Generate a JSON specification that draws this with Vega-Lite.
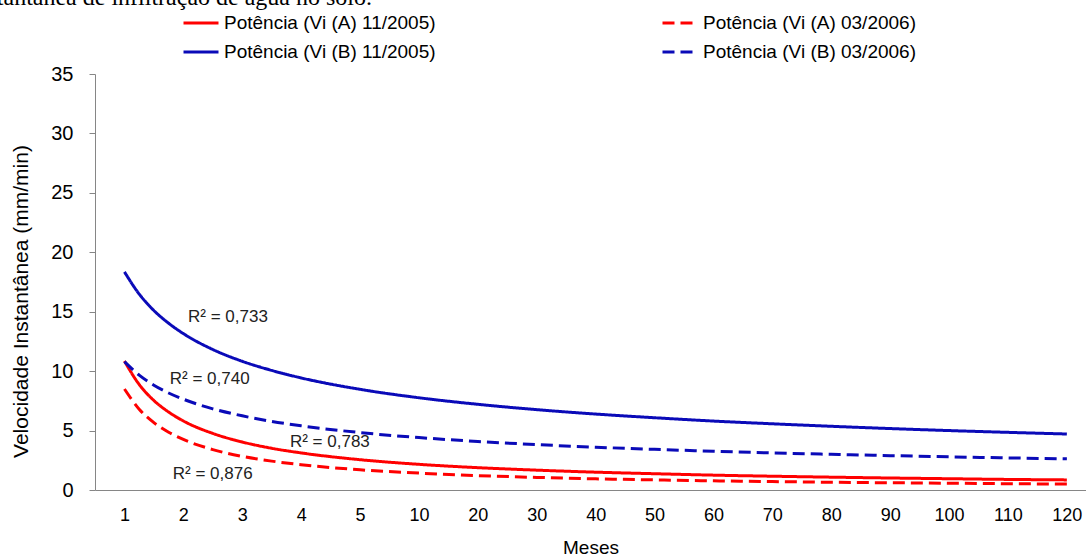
{
  "$schema": "https://vega.github.io/schema/vega-lite/v6.json",
  "autosize": {"type": "none"},
  "padding": {"left": 95, "top": 74, "right": 0, "bottom": 67},
  "width": 991,
  "height": 416,
  "background": "white",
  "config": {
    "view": {"stroke": null},
    "font": "Liberation Sans",
    "legend": {
      "orient": "none",
      "legendX": 87,
      "legendY": -70,
      "columns": 2,
      "columnPadding": 220,
      "rowPadding": -5,
      "symbolType": "stroke",
      "symbolSize": 1225,
      "symbolStrokeWidth": 3,
      "labelFontSize": 19,
      "labelLimit": 500,
      "labelFont": "Liberation Sans",
      "labelColor": "black",
      "labelOffset": 4,
      "titleFontSize": 0
    }
  },
  "title": {
    "text": "Figura 1. Velocidade instantânea de infiltração de água no solo.",
    "anchor": "start",
    "align": "right",
    "frame": "group",
    "dx": 277,
    "dy": 25,
    "offset": 0,
    "font": "Liberation Serif",
    "fontSize": 24,
    "fontWeight": "normal",
    "color": "black",
    "baseline": "alphabetic"
  },
  "layer": [
    {
      "data": {
        "values": [
          {"i": 1, "a11": 10.85, "a03": 8.5, "b11": 18.35, "b03": 10.8},
          {"i": 1.25, "a11": 8.88, "a03": 6.8, "b11": 16.49, "b03": 9.66},
          {"i": 1.5, "a11": 7.53, "a03": 5.67, "b11": 15.1, "b03": 8.82},
          {"i": 1.75, "a11": 6.56, "a03": 4.86, "b11": 14.03, "b03": 8.16},
          {"i": 2, "a11": 5.81, "a03": 4.25, "b11": 13.16, "b03": 7.64},
          {"i": 2.5, "a11": 4.76, "a03": 3.4, "b11": 11.82, "b03": 6.83},
          {"i": 3, "a11": 4.04, "a03": 2.83, "b11": 10.83, "b03": 6.24},
          {"i": 3.5, "a11": 3.51, "a03": 2.43, "b11": 10.06, "b03": 5.77},
          {"i": 4, "a11": 3.12, "a03": 2.13, "b11": 9.43, "b03": 5.4},
          {"i": 5, "a11": 2.55, "a03": 1.7, "b11": 8.47, "b03": 4.83},
          {"i": 6, "a11": 2.16, "a03": 1.42, "b11": 7.76, "b03": 4.41},
          {"i": 7, "a11": 1.88, "a03": 1.21, "b11": 7.21, "b03": 4.08},
          {"i": 8, "a11": 1.67, "a03": 1.06, "b11": 6.76, "b03": 3.82},
          {"i": 9, "a11": 1.5, "a03": 0.94, "b11": 6.39, "b03": 3.6},
          {"i": 10, "a11": 1.37, "a03": 0.85, "b11": 6.08, "b03": 3.42},
          {"i": 11, "a11": 1.25, "a03": 0.77, "b11": 5.8, "b03": 3.26},
          {"i": 12, "a11": 1.16, "a03": 0.71, "b11": 5.57, "b03": 3.12},
          {"i": 13, "a11": 1.08, "a03": 0.65, "b11": 5.36, "b03": 3.0},
          {"i": 14, "a11": 1.01, "a03": 0.61, "b11": 5.17, "b03": 2.89},
          {"i": 15, "a11": 0.95, "a03": 0.57, "b11": 5.0, "b03": 2.79},
          {"i": 16, "a11": 0.89, "a03": 0.53, "b11": 4.85, "b03": 2.7},
          {"i": 17, "a11": 0.85, "a03": 0.5, "b11": 4.71, "b03": 2.62}
        ]
      },
      "transform": [{"fold": ["a11", "a03", "b11", "b03"], "as": ["serie", "valor"]}],
      "mark": {"type": "line", "strokeWidth": 3, "interpolate": "monotone"},
      "encoding": {
        "x": {
          "field": "i",
          "type": "quantitative",
          "scale": {"domain": [0.5, 17.325], "nice": false, "zero": false},
          "axis": {
            "values": [1, 2, 3, 4, 5, 6, 7, 8, 9, 10, 11, 12, 13, 14, 15, 16, 17],
            "labelExpr": "datum.value <= 5 ? datum.value : (datum.value - 5) * 10",
            "ticks": false,
            "grid": false,
            "domainColor": "#868686",
            "labelFontSize": 18,
            "labelColor": "black",
            "labelPadding": 16,
            "title": "Meses",
            "titleFontSize": 19,
            "titleFontWeight": "normal",
            "titleColor": "black",
            "titlePadding": 14
          }
        },
        "y": {
          "field": "valor",
          "type": "quantitative",
          "scale": {"domain": [0, 35], "nice": false},
          "axis": {
            "values": [0, 5, 10, 15, 20, 25, 30, 35],
            "ticks": true,
            "tickSize": 6,
            "tickColor": "#868686",
            "domainColor": "#868686",
            "grid": false,
            "labelFontSize": 20,
            "labelColor": "black",
            "labelPadding": 16,
            "title": "Velocidade Instantânea (mm/min)",
            "titleFontSize": 21,
            "titleFontWeight": "normal",
            "titleColor": "black",
            "titleX": -64,
            "titleY": 227
          }
        },
        "color": {
          "field": "serie",
          "type": "nominal",
          "scale": {"domain": ["a11", "b11", "a03", "b03"], "range": ["#FF0000", "#0A0AB8", "#FF0000", "#0A0AB8"]},
          "legend": {
            "title": null,
            "labelExpr": "{'a11': 'Potência (Vi (A) 11/2005)', 'a03': 'Potência (Vi (A) 03/2006)', 'b11': 'Potência (Vi (B) 11/2005)', 'b03': 'Potência (Vi (B) 03/2006)'}[datum.label]"
          }
        },
        "strokeDash": {
          "field": "serie",
          "type": "nominal",
          "scale": {"domain": ["a11", "b11", "a03", "b03"], "range": [[1, 0], [1, 0], [12, 6], [12, 6]]},
          "legend": {
            "title": null,
            "labelExpr": "{'a11': 'Potência (Vi (A) 11/2005)', 'a03': 'Potência (Vi (A) 03/2006)', 'b11': 'Potência (Vi (B) 11/2005)', 'b03': 'Potência (Vi (B) 03/2006)'}[datum.label]"
          }
        }
      }
    },
    {
      "data": {
        "values": [
          {"i": 2.08, "v": 14.58, "t": "R² = 0,733"},
          {"i": 1.77, "v": 9.34, "t": "R² = 0,740"},
          {"i": 3.81, "v": 4.06, "t": "R² = 0,783"},
          {"i": 1.82, "v": 1.35, "t": "R² = 0,876"}
        ]
      },
      "mark": {"type": "text", "align": "left", "baseline": "middle", "fontSize": 17, "font": "Liberation Sans", "color": "#222222"},
      "encoding": {
        "x": {"field": "i", "type": "quantitative", "title": "Meses"},
        "y": {"field": "v", "type": "quantitative", "title": "Velocidade Instantânea (mm/min)"},
        "text": {"field": "t", "type": "nominal"}
      }
    }
  ]
}
